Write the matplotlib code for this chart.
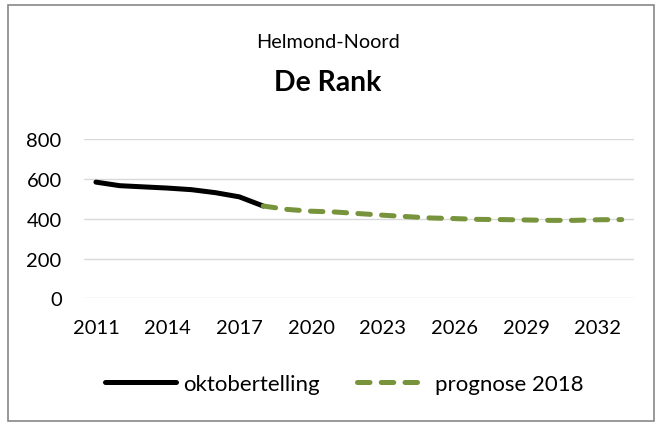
import numpy as np
import matplotlib
matplotlib.use("Agg")
import matplotlib.pyplot as plt
from matplotlib.patches import Rectangle

plt.rcParams['font.family'] = ['Lato', 'DejaVu Sans']

# gegevens
jaren_telling = [2011, 2012, 2013, 2014, 2015, 2016, 2017, 2018]
oktobertelling = [584, 566, 560, 554, 546, 531, 510, 464]

jaren_prognose = list(range(2018, 2034))
prognose_2018 = [464, 447, 438, 434, 426, 418, 411, 404, 401, 397, 396, 394, 392, 392, 395, 396]

xtick_jaren = list(range(2011, 2033, 3))
yticks = [0, 200, 400, 600, 800]

groen = '#77933C'

fig = plt.figure(figsize=(6.56, 4.27), dpi=100)
ax = fig.add_axes([0.128, 0.2986, 0.838, 0.3734])

ax.plot(jaren_telling, oktobertelling, color='black', lw=3.6,
        solid_capstyle='round', label='oktobertelling')
ax.plot(jaren_prognose, prognose_2018, color=groen, lw=3.6,
        dashes=(2.5, 2.25), dash_capstyle='round', label='prognose 2018')

ax.set_xlim(2010.5, 2033.5)
ax.set_ylim(0, 800)
ax.set_xticks(xtick_jaren)
ax.set_yticks(yticks)
ax.tick_params(length=0, labelsize=14.5)
ax.tick_params(axis='x', pad=15)
ax.tick_params(axis='y', pad=16)
ax.grid(axis='y', color='#d9d9d9', lw=1)
ax.set_axisbelow(True)
for s in ax.spines.values():
    s.set_visible(False)

fig.text(0.5, 0.90, 'Helmond-Noord', ha='center', va='center', fontsize=14.3)
fig.text(0.5, 0.805, 'De Rank', ha='center', va='center', fontsize=20.4, fontweight='bold')

fig.legend(loc='center', bbox_to_anchor=(0.525, 0.099), ncol=2, frameon=False,
           fontsize=16, handlelength=3.2, handletextpad=0.3, columnspacing=1.7)

# rand om de grafiek
fig.patches.append(Rectangle((0.012, 0.012), 0.985, 0.975, transform=fig.transFigure,
                             fill=False, edgecolor='#878787', lw=1.2))

fig.savefig('out.png', dpi=100)
